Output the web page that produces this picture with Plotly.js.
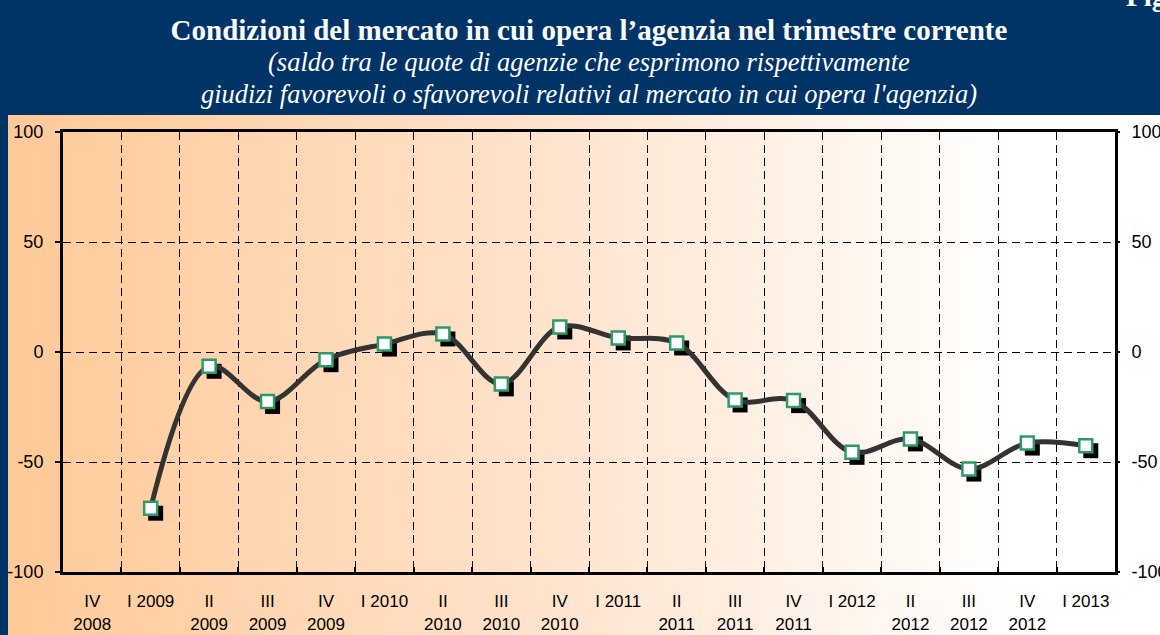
<!DOCTYPE html>
<html>
<head>
<meta charset="utf-8">
<script src="https://cdn.plot.ly/plotly-3.0.1.min.js"></script>
<style>
  html, body { margin:0; padding:0; width:1160px; height:635px; overflow:hidden; background:#003366; }
  #panel { position:absolute; left:8px; top:115px; width:1152px; height:520px;
           background:linear-gradient(to right, #FFC997 0%, #FFE2CB 45%, #FFFFFF 88%, #FFFFFF 100%); }
  #chart { position:absolute; left:0; top:0; width:1160px; height:635px; }
</style>
</head>
<body>
<div id="panel"></div>
<div id="chart"></div>
<script>
// Quarters (categories)
const categories = ['IV 2008','I 2009','II 2009','III 2009','IV 2009','I 2010','II 2010','III 2010','IV 2010',
                    'I 2011','II 2011','III 2011','IV 2011','I 2012','II 2012','III 2012','IV 2012','I 2013'];
// Tick labels as drawn (two lines where the year is below)
const tickLabels = ['IV<br>2008','I 2009','II<br>2009','III<br>2009','IV<br>2009','I 2010','II<br>2010','III<br>2010','IV<br>2010',
                    'I 2011','II<br>2011','III<br>2011','IV<br>2011','I 2012','II<br>2012','III<br>2012','IV<br>2012','I 2013'];
// Balance of favourable vs unfavourable opinions
const saldo = [null, -71, -6.5, -22.5, -3.5, 3.6, 8.2, -14.5, 11.4, 6.4, 4.1, -21.8, -22.1, -45.6, -39.5, -53.2, -41.4, -42.6];
// Y axis ticks and their labels
const yTicks = [-100, -50, 0, 50, 100];
const yTickLabels = ['-100', '-50', '0', '50', '100'];

const font = 'Liberation Sans, Arial, sans-serif';
const serif = 'Liberation Serif, Times New Roman, serif';

const plotW = 1052, plotH = 440;
const shX = 5 / (plotW / categories.length); // shadow offset in category units
const shY = 5 / (plotH / 200);               // shadow offset in y units

const shadow = {
  x: categories, y: saldo, xaxis: 'x', yaxis: 'y', type: 'scatter', mode: 'markers',
  marker: { symbol: 'square', size: 15, color: '#000000', line: { width: 0 } },
  hoverinfo: 'skip', showlegend: false
};
const main = {
  x: categories, y: saldo, xaxis: 'x2', yaxis: 'y2', type: 'scatter', mode: 'lines+markers',
  line: { shape: 'spline', smoothing: 1, color: '#333333', width: 5 },
  marker: { symbol: 'square', size: 13, color: '#FFFFFF', line: { color: '#2E9A66', width: 2.5 } },
  connectgaps: false, showlegend: false
};
const rightDummy = {
  x: categories, y: saldo, xaxis: 'x2', yaxis: 'y3', type: 'scatter', mode: 'markers',
  marker: { opacity: 0, size: 1 }, hoverinfo: 'skip', showlegend: false
};

const gridDash = '8px,5px';
const layout = {
  width: 1160, height: 635,
  margin: { l: 63, r: 45, t: 132, b: 63 },
  paper_bgcolor: 'rgba(0,0,0,0)', plot_bgcolor: 'rgba(0,0,0,0)',
  showlegend: false,
  title: {
    text: '<b>Condizioni del mercato in cui opera l’agenzia nel trimestre corrente</b>',
    font: { family: serif, size: 29, color: '#FFFFFF' },
    x: 0.5, xanchor: 'center', xref: 'paper', y: 1 - 30 / 635, yref: 'container', yanchor: 'middle'
  },
  annotations: [
    { text: '<i>(saldo tra le quote di agenzie che esprimono rispettivamente</i>', xref: 'paper', yref: 'paper',
      x: 0.5, y: 1 + (132 - 62) / plotH, xanchor: 'center', yanchor: 'middle', showarrow: false,
      font: { family: serif, size: 26.5, color: '#FFFFFF' } },
    { text: "<i>giudizi favorevoli o sfavorevoli relativi al mercato in cui opera l'agenzia)</i>", xref: 'paper', yref: 'paper',
      x: 0.5, y: 1 + (132 - 94) / plotH, xanchor: 'center', yanchor: 'middle', showarrow: false,
      font: { family: serif, size: 26.5, color: '#FFFFFF' } },
    { text: '<b>Figura</b>', xref: 'paper', yref: 'paper',
      x: (1124 - 63) / plotW, y: 1 + (132 + 4) / plotH, xanchor: 'left', yanchor: 'middle', showarrow: false,
      font: { family: serif, size: 29, color: '#FFFFFF' } }
  ],
  xaxis: {
    type: 'category', range: [-0.5 - shX, categories.length - 0.5 - shX], visible: false, fixedrange: true
  },
  yaxis: {
    range: [-100 + shY, 100 + shY], visible: false, fixedrange: true
  },
  xaxis2: {
    type: 'category', overlaying: 'x', anchor: 'y2', side: 'bottom',
    range: [-0.5, categories.length - 0.5],
    tickmode: 'array', tickvals: categories, ticktext: tickLabels,
    tickson: 'boundaries', ticks: 'inside', ticklen: 5, tickwidth: 2, tickcolor: '#000',
    showgrid: true, gridcolor: '#000', gridwidth: 1, griddash: gridDash,
    showline: true, linecolor: '#000', linewidth: 3, mirror: true,
    tickfont: { family: font, size: 17, color: '#000' }, ticklabelstandoff: 12,
    fixedrange: true
  },
  yaxis2: {
    overlaying: 'y', anchor: 'x2', side: 'left', range: [-100, 100],
    tickmode: 'array', tickvals: yTicks, ticktext: yTickLabels,
    ticks: 'outside', ticklen: 5, tickwidth: 2, tickcolor: '#000',
    showgrid: true, gridcolor: '#000', gridwidth: 1, griddash: gridDash, zeroline: false,
    showline: true, linecolor: '#000', linewidth: 3, mirror: true,
    tickfont: { family: font, size: 18, color: '#000' }, ticklabelstandoff: 8,
    fixedrange: true
  },
  yaxis3: {
    overlaying: 'y', anchor: 'x2', side: 'right', range: [-100, 100],
    tickmode: 'array', tickvals: yTicks, ticktext: yTickLabels,
    ticks: 'outside', ticklen: 4, tickwidth: 2, tickcolor: '#000',
    showgrid: false, zeroline: false, showline: false,
    tickfont: { family: font, size: 18, color: '#000' }, ticklabelstandoff: 8,
    fixedrange: true
  }
};

Plotly.newPlot('chart', [shadow, main, rightDummy], layout, { displayModeBar: false, staticPlot: true });
</script>
</body>
</html>
